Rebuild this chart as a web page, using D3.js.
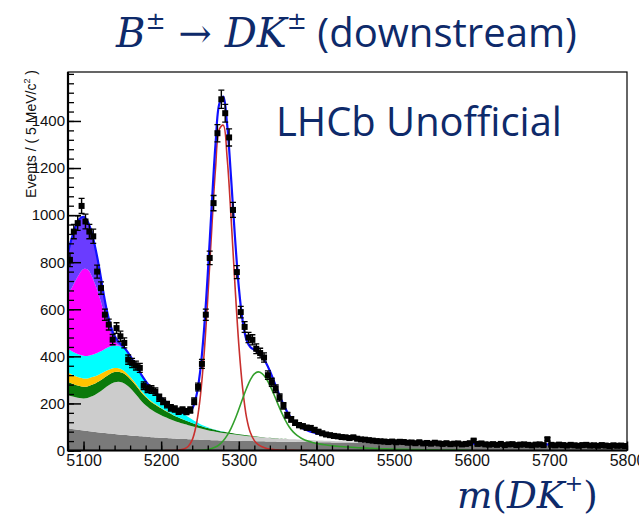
<!DOCTYPE html>
<html>
<head>
<meta charset="utf-8">
<script src="https://cdn.jsdelivr.net/npm/d3@7"></script>
<style>
  body { margin: 0; background: #ffffff; }
  svg { display: block; }
</style>
</head>
<body>
<svg id="chart" width="639" height="526"></svg>
<script>
// ---------------------------------------------------------------
// m(DK) candidates, 5 MeV/c^2 bins from 5080 to 5800 MeV/c^2
// ---------------------------------------------------------------
const binLow = 5080;
const binWidth = 5;
const events = [
  810, 930, 966, 1039, 973, 930, 910, 760, 690, 577,
  535, 471, 520, 485, 457, 386, 372, 361, 351, 275,
  262, 259, 250, 224, 209, 195, 181, 176, 167, 172,
  165, 172, 209, 270, 368, 577, 818, 1051, 1348, 1492,
  1433, 1330, 1022, 758, 588, 525, 480, 470, 432, 414,
  395, 320, 290, 262, 225, 190, 150, 132, 118, 108,
  103, 97, 96, 88, 80, 73, 68, 65, 62, 60,
  57, 56, 53, 56, 50, 47, 46, 44, 42, 40,
  39, 38, 36, 38, 35, 37, 36, 33, 34, 31,
  35, 30, 32, 29, 33, 30, 28, 31, 27, 29,
  30, 26, 28, 31, 42, 28, 30, 26, 25, 27,
  24, 28, 23, 26, 27, 23, 25, 26, 24, 22,
  25, 26, 23, 48, 24, 22, 25, 23, 21, 24,
  22, 20, 23, 24, 21, 22, 20, 23, 21, 19,
  22, 20, 21, 19
];

// ---------------------------------------------------------------
// Fit model, each component sampled every 5 MeV/c^2 from its start mass
// ---------------------------------------------------------------
const fitStep = 5;
const fitLow = 5080;
const fitHigh = 5800;

// combinatorial background (dark grey)
const combStart = 5080;
const combinatorial = [
  94.0, 91.6, 89.3, 87.1, 85.0, 82.9, 80.9, 78.9, 77.0, 75.2,
  73.4, 71.7, 70.0, 68.4, 66.8, 65.4, 64.0, 62.7, 61.4, 60.2,
  59.0, 57.7, 56.5, 55.2, 54.0, 53.0, 52.0, 51.0, 50.0, 49.2,
  48.5, 47.7, 47.0, 46.4, 45.7, 45.1, 44.5, 44.0, 43.5, 43.0,
  42.5, 42.1, 41.7, 41.4, 41.0, 40.6, 40.2, 39.9, 39.5, 39.2,
  38.9, 38.6, 38.3, 38.0, 37.7, 37.5, 37.2, 36.9, 36.7, 36.4,
  36.2, 36.0, 35.7, 35.5, 35.3, 35.1, 34.9, 34.7, 34.5, 34.3,
  34.0, 33.8, 33.6, 33.4, 33.2, 33.0, 32.8, 32.6, 32.5, 32.3,
  32.1, 31.9, 31.8, 31.6, 31.4, 31.2, 31.1, 30.9, 30.8, 30.6,
  30.4, 30.3, 30.1, 30.0, 29.8, 29.6, 29.5, 29.3, 29.2, 29.0,
  28.9, 28.7, 28.6, 28.4, 28.3, 28.2, 28.0, 27.9, 27.7, 27.6,
  27.5, 27.3, 27.2, 27.0, 26.9, 26.8, 26.6, 26.5, 26.4, 26.3,
  26.1, 26.0, 25.9, 25.7, 25.6, 25.5, 25.4, 25.2, 25.1, 25.0,
  24.9, 24.8, 24.6, 24.5, 24.4, 24.3, 24.2, 24.0, 23.9, 23.8,
  23.7, 23.6, 23.5, 23.3, 23.2
];

// B -> D* pi misidentified, partially reconstructed (light grey)
const dstPiStart = 5080;
const dstPiMisid = [
  141, 139, 137, 136, 136, 140, 148, 158, 170, 184,
  198, 211, 220, 224, 222, 214, 201, 185, 167, 148,
  133, 121, 111, 103, 96, 89, 83, 77, 72, 68,
  64, 60, 56, 52, 48.5, 45, 42, 39, 36.5, 34,
  32, 30, 28, 26.3, 24.7, 23.2, 21.8, 20.5, 19.3, 18.2,
  17.1, 16.1, 15.2, 14.3, 13.5, 12.7, 12.0, 11.3, 10.6, 10.0,
  9.4, 8.9, 8.4, 7.9, 7.4, 7.0, 6.6, 6.2, 5.8, 5.5,
  5.2, 4.9, 4.6, 4.3, 4.1, 3.8, 3.6, 3.4, 3.2, 3.0,
  2.8, 2.6, 2.5, 2.3, 2.2, 2.0, 1.9, 1.8, 1.7, 1.6,
  1.5, 1.4, 1.3, 1.2, 1.1, 1.0, 0.9, 0.8, 0.7, 0.6,
  0.5, 0.4, 0.3, 0.2, 0.1
];

// B -> D pi pi (dark green band)
const dPiPiStart = 5080;
const dPiPi = [
  56, 54, 52, 51, 50, 49, 49, 48, 47, 46,
  45, 44, 43, 42, 41, 40, 39, 38, 37, 36,
  35, 33, 32, 31, 29, 27, 25, 23, 21, 19,
  17, 15.5, 14, 12.5, 11, 10, 9, 8, 7, 6.2,
  5.5, 4.8, 4.2, 3.7, 3.2, 2.8, 2.4, 2.0, 1.7, 1.4,
  1.1, 0.9, 0.7, 0.5, 0.4, 0.3, 0.2, 0.1
];

// Bs -> D* K (yellow band)
const bsDstKStart = 5080;
const bsDstK = [
  40, 38, 37, 36, 35, 34, 33, 31, 29, 26,
  23, 20, 17, 15, 13, 11, 9.5, 8, 7, 6,
  5, 4, 3.3, 2.6, 2, 1.5, 1.1, 0.8, 0.5, 0.3,
  0.2, 0.1
];

// B -> D K pi (cyan band)
const dKPiStart = 5080;
const dKPi = [
  100, 99, 98, 97, 97, 96, 95, 95, 95, 95,
  96, 96, 96, 96, 95, 92, 87, 81, 75, 69,
  63, 58, 53, 48, 44, 39, 35, 32, 29, 26,
  23, 19, 15, 11, 7.5, 5, 3, 1.8, 1, 0.5,
  0.2, 0.1
];

// B -> D* K, D* -> D pi0 (magenta)
const dstKPi0Start = 5080;
const dstKPi0 = [
  231, 270, 310, 345, 368, 368, 340, 295, 240, 175,
  110, 55, 18, 3, 0
];

// B -> D* K, D* -> D gamma (violet)
const dstKGammaStart = 5080;
const dstKGamma = [
  180, 212, 230, 232, 222, 205, 186, 158, 122, 82,
  50, 32, 22, 14, 8, 4, 2, 1, 0.5, 0
];

// B -> D pi with the pion misidentified (green line)
const dPiMisidStart = 5250;
const dPiMisid = [
  1.0, 2.1, 4.3, 8.1, 14.7, 25.3, 41.2, 64, 94.2, 131.8,
  175.1, 221, 264.7, 301.2, 325.5, 334, 327, 307, 277, 240,
  200, 162, 128, 100, 79, 64, 53, 45, 39, 34,
  30, 27, 24.5, 22.3, 20.4, 18.7, 17.2, 15.8, 14.6, 13.5,
  12.5, 11.6, 10.7, 9.9, 9.2, 8.5, 7.9, 7.3, 6.8, 6.3,
  5.8, 5.4, 5.0, 4.6, 4.3, 4.0, 3.7, 3.4, 3.2, 2.9,
  2.7, 2.5, 2.3, 2.1, 2.0, 1.8, 1.7, 1.6, 1.4, 1.3,
  1.2
];

// B -> D K signal (red line)
const signalStart = 5220;
const signal = [
  1.0, 2.5, 7, 18, 45, 105, 216, 397, 646, 933,
  1198, 1365, 1382, 1242, 992, 706, 450, 262, 140, 75,
  42, 25, 16, 10, 6.5, 4.2, 2.7, 1.7, 1.1, 0.7,
  0.4, 0.2
];

// axis ticks
const yMajorTicks = [0, 200, 400, 600, 800, 1000, 1200, 1400];
const yMinorStep = 40;
const xMajorTicks = [5100, 5200, 5300, 5400, 5500, 5600, 5700, 5800];
const xMinorStep = 20;
const yMax = 1608;

// ---------------------------------------------------------------
const navy = "#0e2a6a";
const svg = d3.select("#chart");
const frame = { left: 68, right: 627, top: 72, bottom: 450.5 };

const x = d3.scaleLinear().domain([fitLow, fitHigh]).range([frame.left, frame.right]);
const y = d3.scaleLinear().domain([0, yMax]).range([frame.bottom, frame.top]);

svg.append("rect").attr("width", 639).attr("height", 526).attr("fill", "#ffffff");

svg.append("clipPath").attr("id", "plotClip")
  .append("rect")
  .attr("x", frame.left).attr("y", frame.top)
  .attr("width", frame.right - frame.left).attr("height", frame.bottom - frame.top);

// common fit grid
const grid = d3.range(fitLow, fitHigh + 0.001, fitStep);
function sampler(start, values) {
  return m => {
    const i = Math.round((m - start) / fitStep);
    return (i >= 0 && i < values.length) ? values[i] : 0;
  };
}
const comp = {
  comb: sampler(combStart, combinatorial),
  dstPi: sampler(dstPiStart, dstPiMisid),
  dPiPi: sampler(dPiPiStart, dPiPi),
  bsDstK: sampler(bsDstKStart, bsDstK),
  dKPi: sampler(dKPiStart, dKPi),
  dstKPi0: sampler(dstKPi0Start, dstKPi0),
  dstKGamma: sampler(dstKGammaStart, dstKGamma),
  dPi: sampler(dPiMisidStart, dPiMisid),
  sig: sampler(signalStart, signal)
};
const stackKeys = ["comb", "dstPi", "dPiPi", "bsDstK", "dKPi", "dstKPi0", "dstKGamma"];
const stackColors = {
  comb: "#7a7a7a",
  dstPi: "#cccccc",
  dPiPi: "#0a7a0a",
  bsDstK: "#ffc400",
  dKPi: "#00ffff",
  dstKPi0: "#ff00ff",
  dstKGamma: "#6a3cff"
};
const table = grid.map(m => {
  const row = { m };
  Object.keys(comp).forEach(k => { row[k] = comp[k](m); });
  row.total = stackKeys.reduce((s, k) => s + row[k], 0) + row.dPi + row.sig;
  return row;
});

const curve = d3.curveCatmullRom.alpha(0.5);
const plot = svg.append("g").attr("clip-path", "url(#plotClip)");

const layers = d3.stack().keys(stackKeys)(table);
const area = d3.area()
  .x(d => x(d.data.m))
  .y0(d => y(d[0]))
  .y1(d => y(d[1]))
  .curve(curve);
plot.selectAll("path.layer").data(layers).join("path")
  .attr("class", "layer")
  .attr("d", area)
  .attr("fill", d => stackColors[d.key])
  .attr("stroke", "none");

function lineOf(key, start, length, color, width) {
  const rows = table.filter(r => r.m >= start && r.m <= start + (length - 1) * fitStep);
  plot.append("path")
    .datum(rows)
    .attr("d", d3.line().x(r => x(r.m)).y(r => y(r[key])).curve(curve))
    .attr("fill", "none")
    .attr("stroke", color)
    .attr("stroke-width", width);
}
lineOf("sig", signalStart - 3 * fitStep, signal.length + 6, "#c8302e", 1.6);
lineOf("dPi", dPiMisidStart - 3 * fitStep, dPiMisid.length + 3, "#33a02c", 1.6);
lineOf("total", fitLow, grid.length, "#1010ff", 2.2);

// data points with Poisson error bars
const pts = events.map((n, i) => ({ m: binLow + (i + 0.5) * binWidth, n, e: Math.sqrt(n) }));
const dataG = plot.append("g");
dataG.selectAll("line.err").data(pts).join("line")
  .attr("class", "err")
  .attr("x1", d => x(d.m)).attr("x2", d => x(d.m))
  .attr("y1", d => y(d.n - d.e)).attr("y2", d => y(d.n + d.e))
  .attr("stroke", "#000").attr("stroke-width", 1.4);
dataG.selectAll("path.cap").data(pts).join("path")
  .attr("class", "cap")
  .attr("d", d => `M${x(d.m) - 3},${y(d.n + d.e)}h6M${x(d.m) - 3},${y(d.n - d.e)}h6`)
  .attr("stroke", "#000").attr("stroke-width", 1.3);
dataG.selectAll("rect.mk").data(pts).join("rect")
  .attr("class", "mk")
  .attr("x", d => x(d.m) - 3).attr("y", d => y(d.n) - 3)
  .attr("width", 6).attr("height", 6)
  .attr("fill", "#000");

// ---------------------------------------------------------------
// axes (ticks drawn inside the frame)
// ---------------------------------------------------------------
const axisFont = "'Liberation Sans', Arial, Helvetica, sans-serif";
const yMinor = d3.range(0, yMax + 0.001, yMinorStep);
const xMinor = d3.range(fitLow, fitHigh + 0.001, xMinorStep);

svg.append("g").attr("transform", `translate(${frame.left},0)`)
  .call(d3.axisLeft(y).tickValues(yMinor).tickSize(-6).tickFormat(""))
  .call(g => g.select(".domain").remove())
  .selectAll("line").attr("stroke", "#000").attr("stroke-width", 1.3);
const yAx = svg.append("g").attr("transform", `translate(${frame.left},0)`)
  .call(d3.axisLeft(y).tickValues(yMajorTicks).tickSize(-13).tickPadding(3).tickFormat(d3.format("d")));
yAx.select(".domain").remove();
yAx.selectAll("line").attr("stroke", "#000").attr("stroke-width", 1.5);
yAx.selectAll("text").attr("font-family", axisFont).attr("font-size", 15).attr("fill", "#111");

svg.append("g").attr("transform", `translate(0,${frame.bottom})`)
  .call(d3.axisBottom(x).tickValues(xMinor).tickSize(-5).tickFormat(""))
  .call(g => g.select(".domain").remove())
  .selectAll("line").attr("stroke", "#000").attr("stroke-width", 1.3);
const xAx = svg.append("g").attr("transform", `translate(0,${frame.bottom})`)
  .call(d3.axisBottom(x).tickValues(xMajorTicks).tickSize(-9).tickPadding(4).tickFormat(d3.format("d")));
xAx.select(".domain").remove();
xAx.selectAll("line").attr("stroke", "#000").attr("stroke-width", 1.5);
xAx.selectAll("text").attr("font-family", axisFont).attr("font-size", 16).attr("fill", "#111");

// frame
svg.append("rect")
  .attr("x", frame.left).attr("y", frame.top)
  .attr("width", frame.right - frame.left).attr("height", frame.bottom - frame.top)
  .attr("fill", "none").attr("stroke", "#000").attr("stroke-width", 1.2);
svg.append("line").attr("x1", frame.left).attr("x2", frame.left)
  .attr("y1", frame.top).attr("y2", frame.bottom + 1)
  .attr("stroke", "#000").attr("stroke-width", 2.2);
svg.append("line").attr("x1", frame.left).attr("x2", frame.right)
  .attr("y1", frame.bottom).attr("y2", frame.bottom)
  .attr("stroke", "#000").attr("stroke-width", 2.2);

// y axis title
const yTitle = svg.append("text")
  .attr("transform", "translate(36,70) rotate(-90)")
  .attr("text-anchor", "end")
  .attr("font-family", axisFont)
  .attr("font-size", 14)
  .attr("fill", "#111");
yTitle.append("tspan").text("Events / ( 5 MeV/c");
yTitle.append("tspan").attr("font-size", 9).attr("dy", -6).text("2");
yTitle.append("tspan").attr("dy", 6).text(" )");

// ---------------------------------------------------------------
// annotations
// ---------------------------------------------------------------
const mathFont = "'DejaVu Serif', 'Liberation Serif', serif";
const textFont = "'Open Sans', 'Noto Sans', sans-serif";

function fitWidth(sel, target) {
  const w = sel.node().getComputedTextLength();
  const fs = parseFloat(sel.attr("font-size"));
  sel.attr("font-size", fs * target / w);
}

const title = svg.append("text")
  .attr("x", 116).attr("y", 47)
  .attr("font-size", 36)
  .attr("fill", navy);
title.append("tspan").attr("font-family", mathFont).attr("font-style", "italic").text("B");
title.append("tspan").attr("font-family", mathFont).attr("font-size", "0.6em").attr("dy", "-0.75em").text("±");
title.append("tspan").attr("font-family", mathFont).attr("dy", "0.45em").text(" → ");
title.append("tspan").attr("font-family", mathFont).attr("font-style", "italic").text("DK");
title.append("tspan").attr("font-family", mathFont).attr("font-size", "0.6em").attr("dy", "-0.75em").text("±");
title.append("tspan").attr("font-family", textFont).attr("dy", "0.45em").text(" (downstream)");
fitWidth(title, 461);

const lhcb = svg.append("text")
  .attr("x", 276).attr("y", 136)
  .attr("font-family", textFont)
  .attr("font-size", 36)
  .attr("fill", navy)
  .text("LHCb Unofficial");
fitWidth(lhcb, 286);

const xTitle = svg.append("text")
  .attr("x", 457).attr("y", 508)
  .attr("font-family", mathFont)
  .attr("font-size", 30)
  .attr("fill", navy);
xTitle.append("tspan").attr("font-style", "italic").text("m");
xTitle.append("tspan").text("(");
xTitle.append("tspan").attr("font-style", "italic").text("DK");
xTitle.append("tspan").attr("font-size", "0.6em").attr("dy", "-0.75em").text("+");
xTitle.append("tspan").attr("dy", "0.45em").text(")");
fitWidth(xTitle, 141);
</script>
</body>
</html>
